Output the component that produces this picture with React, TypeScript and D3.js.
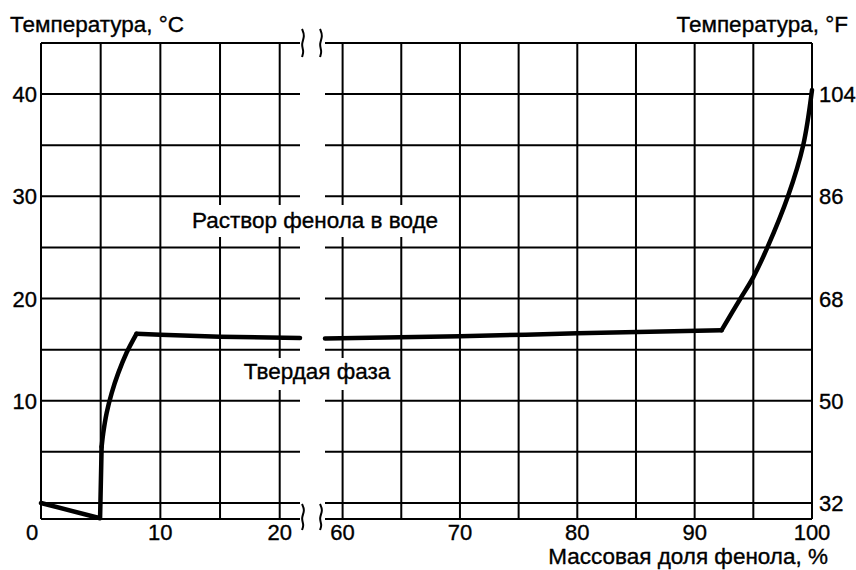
import * as React from "react";
import { useRef, useEffect } from "react";
import * as d3 from "d3";

// phenol mass fraction (%) vs temperature (°C)
const leftCurve: [number, number][] = [
  [0, 0], [4.95, -1.5], [5.08, 5.5], [5.21, 6.8], [5.5, 8.8], [5.92, 10.75],
  [6.47, 12.7], [7.17, 14.7], [8.0, 16.55], [10, 16.45], [15, 16.25], [21.7, 16.15],
];
const rightCurve: [number, number][] = [
  [58.5, 16.1], [70, 16.3], [80, 16.6], [92.3, 16.9], [93.9, 20], [95, 22.1],
  [96.2, 25], [97.95, 30], [99.25, 35], [100, 40.4],
];

const leftXTicks = [0, 10, 20];
const rightXTicks = [60, 70, 80, 90, 100];
const leftXGrid = [5, 10, 15, 20];
const rightXGrid = [60, 65, 70, 75, 80, 85, 90, 95];
const yGrid = [0, 5, 10, 15, 20, 25, 30, 35, 40];
const yTicksC = [10, 20, 30, 40];
const yTicksF = [
  { c: 0, f: "32" }, { c: 10, f: "50" }, { c: 20, f: "68" }, { c: 30, f: "86" }, { c: 40, f: "104" },
];

const FONT = "'Liberation Sans', Arial, sans-serif";

export default function App() {
  const ref = useRef<SVGSVGElement>(null);

  useEffect(() => {
    const svg = d3.select(ref.current);
    svg.selectAll("*").remove();

    const xL = d3.scaleLinear().domain([0, 21.7]).range([41, 300]);
    const xR = d3.scaleLinear().domain([58.5, 100]).range([325, 812]);
    const y = d3.scaleLinear().domain([-1.57, 45]).range([519, 43]);
    const [yBot, yTop] = y.range();

    const g = svg.append("g");
    const grid = g.append("g").attr("stroke", "#000").attr("stroke-width", 2).attr("fill", "none");

    // horizontal lines (grid + top/bottom borders) in both panels
    const hLevels = [...yGrid, 45, -1.57];
    [xL, xR].forEach((x) => {
      grid.selectAll(null)
        .data(hLevels)
        .join("line")
        .attr("x1", x.range()[0])
        .attr("x2", x.range()[1])
        .attr("y1", (d) => y(d))
        .attr("y2", (d) => y(d));
    });
    // verticals
    grid.selectAll(null)
      .data([0, ...leftXGrid])
      .join("line")
      .attr("x1", (d) => xL(d)).attr("x2", (d) => xL(d))
      .attr("y1", yTop).attr("y2", yBot);
    grid.selectAll(null)
      .data([...rightXGrid, 100])
      .join("line")
      .attr("x1", (d) => xR(d)).attr("x2", (d) => xR(d))
      .attr("y1", yTop).attr("y2", yBot);

    // phase curve: straight pieces linear, bent pieces smoothed
    const piece = (x: d3.ScaleLinear<number, number>, data: [number, number][], curve: d3.CurveFactory) =>
      g.append("path").datum(data)
        .attr("fill", "none").attr("stroke", "#000").attr("stroke-width", 4.5)
        .attr("stroke-linejoin", "round").attr("stroke-linecap", "round")
        .attr("d", d3.line<[number, number]>().x((d) => x(d[0])).y((d) => y(d[1])).curve(curve));
    piece(xL, leftCurve.slice(0, 3), d3.curveLinear);
    piece(xL, leftCurve.slice(2, 9), d3.curveCatmullRom);
    piece(xL, leftCurve.slice(8), d3.curveLinear);
    piece(xR, rightCurve.slice(0, 4), d3.curveMonotoneX);
    piece(xR, rightCurve.slice(3), d3.curveCatmullRom);

    // break marks
    const squiggle = (cx: number, y0: number, h: number) => {
      const pts: [number, number][] = [
        [cx - 1, y0], [cx + 2, y0 + h * 0.25], [cx - 2, y0 + h * 0.55], [cx + 1, y0 + h * 0.8], [cx - 1, y0 + h],
      ];
      return d3.line().curve(d3.curveBasis)(pts);
    };
    const bx1 = xL.range()[1] + 3;
    const bx2 = xR.range()[0] - 4;
    [bx1, bx2].forEach((bx) => {
      g.append("path").attr("d", squiggle(bx, yTop - 14, 28))
        .attr("fill", "none").attr("stroke", "#000").attr("stroke-width", 2);
      g.append("path").attr("d", squiggle(bx, yBot - 15, 26))
        .attr("fill", "none").attr("stroke", "#000").attr("stroke-width", 2);
    });

    const text = (x: number, yy: number, s: string, anchor = "start", size = 22) =>
      g.append("text")
        .attr("x", x).attr("y", yy)
        .attr("text-anchor", anchor)
        .style("font-family", FONT)
        .style("font-size", `${size}px`)
        .attr("fill", "#000")
        .attr("stroke", "#000")
        .attr("stroke-width", 0.35)
        .text(s);

    // region labels with white knockout
    const label = (cx: number, base: number, s: string, box: [number, number, number, number]) => {
      g.append("rect").attr("x", box[0]).attr("y", box[1]).attr("width", box[2]).attr("height", box[3]).attr("fill", "#fff");
      text(cx, base, s, "middle", 22.5);
    };
    label(315, 228, "Раствор фенола в воде", [180, 205, 272, 32]);
    label(317, 379, "Твердая фаза", [232, 358, 165, 32]);

    // axis labels
    yTicksC.forEach((d) => text(37, y(d) + 8, String(d), "end"));
    yTicksF.forEach((d) => text(819, y(d.c) + 8, d.f, "start"));
    leftXTicks.forEach((d) => text(d === 0 ? xL(d) - 9 : xL(d), 540, String(d), "middle"));
    rightXTicks.forEach((d) => text(xR(d), 540, String(d), "middle"));

    text(10, 32, "Температура, °C", "start", 22.5);
    text(848, 32, "Температура, °F", "end", 22.5);
    text(828, 564, "Массовая доля фенола, %", "end", 22.5);
  }, []);

  return (
    <svg
      ref={ref}
      width={856}
      height={570}
      style={{ position: "absolute", left: 0, top: 0, display: "block", background: "#fff" }}
    />
  );
}
